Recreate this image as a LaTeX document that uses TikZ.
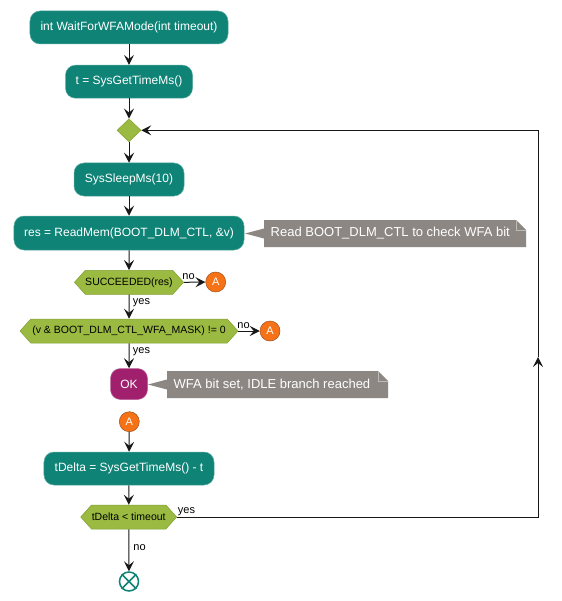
\documentclass[tikz,border=0pt]{standalone}
\usepackage{fontspec}
\setmainfont{Liberation Sans}
\usetikzlibrary{arrows.meta,shapes.geometric,shapes.symbols}
\definecolor{teal1}{RGB}{14,131,118}
\definecolor{tealb}{RGB}{90,170,160}
\definecolor{hexg}{RGB}{155,186,65}
\definecolor{hexb}{RGB}{130,160,50}
\definecolor{orng}{RGB}{245,114,22}
\definecolor{orngb}{RGB}{160,80,30}
\definecolor{mag}{RGB}{160,32,110}
\definecolor{notegray}{RGB}{141,135,131}
\definecolor{notefold}{RGB}{190,186,182}
\definecolor{linec}{RGB}{24,24,24}
\begin{document}
\begin{tikzpicture}[x=1bp,y=-1bp,
  act/.style={rectangle, rounded corners=10bp, fill=teal1, draw=tealb, line width=0.5bp, text=white, font=\fontsize{12bp}{14bp}\selectfont, inner sep=0pt},
  hexa/.style={signal, signal to=west and east, signal pointer angle=96, fill=hexg, draw=hexb, line width=0.5bp, font=\fontsize{10.5bp}{12bp}\selectfont, inner sep=0pt, minimum height=24bp},
  conn/.style={circle, fill=orng, draw=orngb, line width=0.5bp, text=white, font=\fontsize{11bp}{13bp}\selectfont, minimum size=20bp, inner sep=0pt},
  arr/.style={draw=linec, line width=1bp, -{Stealth[length=10bp,width=10bp,inset=4bp]}},
  plain/.style={draw=linec, line width=1bp},
  lbl/.style={font=\fontsize{11bp}{13bp}\selectfont, inner sep=0pt, text=black},
  notebox/.style={font=\fontsize{13bp}{15bp}\selectfont, text=white, inner sep=0pt},
  notefill/.style={fill=notegray},
  notefoldl/.style={draw=notefold, line width=0.6bp}
]
\fill[white] (0,0) rectangle (562,601);
\path[use as bounding box] (0,0) rectangle (562,601);

% activities
\node[act, minimum width=198bp, minimum height=33bp] (start) at (129,27.5) {int WaitForWFAMode(int timeout)};
\node[act, minimum width=127bp, minimum height=33bp] (t) at (129,81.7) {t = SysGetTimeMs()};
\node[diamond, fill=hexg, draw=hexb, line width=0.5bp, minimum width=24bp, minimum height=23bp, inner sep=0pt] (merge) at (129,130.3) {};
\node[act, minimum width=110bp, minimum height=33bp] (sleep) at (129,179.5) {SysSleepMs(10)};
\node[act, minimum width=230bp, minimum height=34bp] (read) at (129,233) {res = ReadMem(BOOT\_DLM\_CTL, \&v)};
\node[hexa, minimum width=107bp] (s1) at (129,282.3) {SUCCEEDED(res)};
\node[conn] (a1) at (215.7,282) {A};
\node[hexa, minimum width=218bp] (s2) at (129,331) {(v \& BOOT\_DLM\_CTL\_WFA\_MASK) != 0};
\node[conn] (a2) at (270,331) {A};
\node[act, fill=mag, draw=mag!70!white, minimum width=37bp, minimum height=31bp] (ok) at (129,384) {OK};
\node[conn] (a3) at (129.3,421.7) {A};
\node[act, minimum width=170bp, minimum height=33bp] (td) at (129,468.5) {tDelta = SysGetTimeMs() - t};
\node[hexa, minimum width=96bp] (s3) at (128.7,517) {tDelta < timeout};
\node[circle, draw=teal1, fill=white, line width=1.5bp, minimum size=19bp, inner sep=0pt] (end) at (129,581.5) {};
\draw[teal1, line width=1.5bp] (end.north east) -- (end.south west) (end.north west) -- (end.south east);

% notes
\fill[notefill] (264,220) -- (516,220) -- (526,230) -- (526,247) -- (264,247) -- (264,238.5) -- (245,233.5) -- (264,228.5) -- cycle;
\draw[notefoldl] (516,220) -- (516,230) -- (526,230);
\node[notebox, anchor=west] (n1) at (270.5,233.5) {Read BOOT\_DLM\_CTL to check WFA bit};
\fill[notefill] (167,371) -- (378,371) -- (388,381) -- (388,398) -- (167,398) -- (167,389.5) -- (148,384.5) -- (167,379.5) -- cycle;
\draw[notefoldl] (378,371) -- (378,381) -- (388,381);
\node[notebox, anchor=west] (n2) at (173.5,384.5) {WFA bit set, IDLE branch reached};

% connectors
\draw[arr] (start) -- (t);
\draw[arr] (t) -- (merge);
\draw[arr] (merge) -- (sleep);
\draw[arr] (sleep) -- (read);
\draw[arr] (read) -- (s1);
\draw[arr] (s1.east) -- (a1);
\draw[arr] (s1) -- (s2);
\draw[arr] (s2.east) -- (a2);
\draw[arr] (s2) -- (ok);
\draw[arr] (a3) -- (td);
\draw[arr] (td) -- (s3);
\draw[arr] (s3) -- (end);
\coordinate (c1) at (538,517);
\coordinate (cm) at (538,357);
\coordinate (c2) at (538,130.3);
\draw[arr] (s3.east) -- (c1) -- (cm);
\draw[arr] (cm) -- (c2) -- (merge.east);

% labels
\node[lbl] (no1) at (188.5,276.5) {no};
\node[lbl] (no2) at (243.5,326) {no};
\node[lbl] (yes1) at (141.5,302.5) {yes};
\node[lbl] (yes2) at (141.5,352) {yes};
\node[lbl] (yes3) at (186.5,512) {yes};
\node[lbl] (no3) at (139.5,548) {no};
\end{tikzpicture}
\end{document}
